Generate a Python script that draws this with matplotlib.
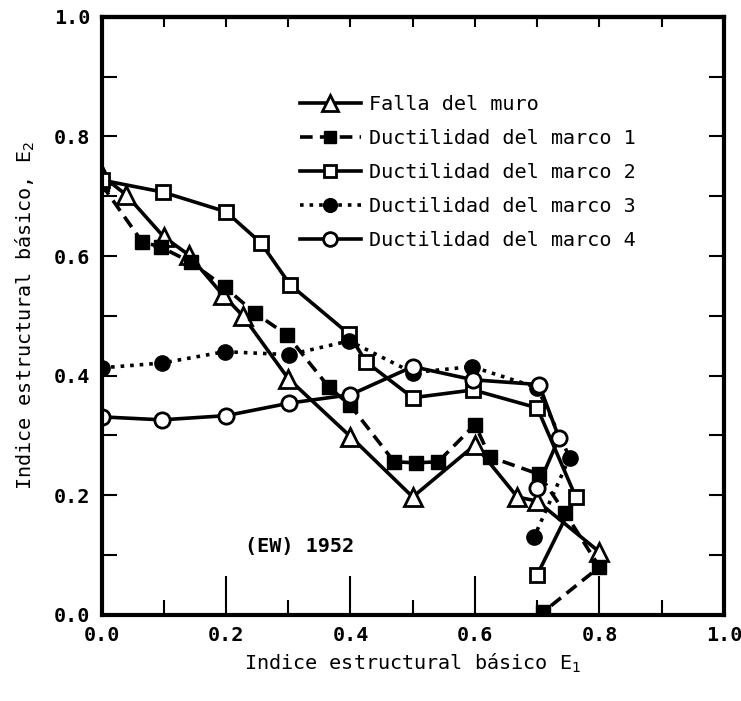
"""Indice estructural basico E1 vs E2 (EW) 1952"""
import matplotlib
matplotlib.use("Agg")
import matplotlib.pyplot as plt
from matplotlib.ticker import MultipleLocator

plt.rcParams['font.family'] = ['DejaVu Sans Mono']

# Falla del muro
muro_x = [0.0, 0.04, 0.10, 0.14, 0.195, 0.227, 0.30, 0.40, 0.50, 0.60, 0.668, 0.70, 0.80]
muro_y = [0.735, 0.702, 0.632, 0.602, 0.535, 0.50, 0.395, 0.298, 0.197, 0.284, 0.197, 0.19, 0.105]

# Ductilidad del marco 1
m1_x = [0.0, 0.065, 0.095, 0.143, 0.198, 0.246, 0.298, 0.365, 0.40, 0.47, 0.505, 0.541, 0.60,
        0.624, 0.703, 0.745, 0.80, 0.71]
m1_y = [0.72, 0.624, 0.615, 0.59, 0.548, 0.505, 0.468, 0.381, 0.35, 0.256, 0.254, 0.256, 0.318,
        0.264, 0.235, 0.17, 0.08, 0.005]

# Ductilidad del marco 2
m2_x = [0.0, 0.098, 0.20, 0.256, 0.303, 0.397, 0.425, 0.50, 0.597, 0.70, 0.762, 0.70]
m2_y = [0.727, 0.707, 0.674, 0.622, 0.552, 0.47, 0.423, 0.363, 0.376, 0.346, 0.197, 0.067]

# Ductilidad del marco 3
m3_x = [0.0, 0.097, 0.198, 0.302, 0.398, 0.50, 0.595, 0.70, 0.752, 0.695]
m3_y = [0.413, 0.421, 0.44, 0.435, 0.458, 0.405, 0.415, 0.38, 0.263, 0.13]

# Ductilidad del marco 4
m4_x = [0.0, 0.097, 0.20, 0.302, 0.40, 0.50, 0.597, 0.703, 0.735, 0.70]
m4_y = [0.331, 0.326, 0.333, 0.354, 0.368, 0.415, 0.393, 0.385, 0.296, 0.212]

labels = ["Falla del muro", "Ductilidad del marco 1", "Ductilidad del marco 2",
          "Ductilidad del marco 3", "Ductilidad del marco 4"]

fig = plt.figure(figsize=(7.41, 7.01), dpi=100)
ax = fig.add_axes([0.137, 0.123, 0.84, 0.853])

lw = 2.6
ax.plot(muro_x, muro_y, '-', color='k', lw=lw, marker='^', ms=13, mfc='white',
        mec='k', mew=2, label=labels[0])
ax.plot(m1_x, m1_y, '--', color='k', lw=lw, dashes=(3.5, 2), marker='s', ms=9.5, mfc='k',
        mec='k', label=labels[1])
ax.plot(m2_x, m2_y, '-', color='k', lw=lw, marker='s', ms=10, mfc='white',
        mec='k', mew=2, label=labels[2])
ax.plot(m3_x, m3_y, ':', color='k', lw=lw, marker='o', ms=11, mfc='k',
        mec='k', label=labels[3])
ax.plot(m4_x, m4_y, '-', color='k', lw=lw, marker='o', ms=11, mfc='white',
        mec='k', mew=2, label=labels[4])

ax.set_xlim(0, 1.0)
ax.set_ylim(0, 1.0)
ax.xaxis.set_major_locator(MultipleLocator(0.2))
ax.xaxis.set_minor_locator(MultipleLocator(0.1))
ax.yaxis.set_major_locator(MultipleLocator(0.2))
ax.yaxis.set_minor_locator(MultipleLocator(0.1))
ax.xaxis.set_major_formatter(lambda v, p: f"{v:.1f}")
ax.yaxis.set_major_formatter(lambda v, p: f"{v:.1f}")

ax.tick_params(axis='x', which='major', direction='in', length=28, width=1.5,
               labelsize=14.5, pad=8)
ax.tick_params(axis='x', which='minor', direction='in', length=11, width=1.5)
ax.tick_params(axis='y', which='both', direction='in', length=11, width=1.5,
               right=True, labelsize=14.5, pad=8)
for lab in ax.get_xticklabels() + ax.get_yticklabels():
    lab.set_fontweight('bold')

top = ax.secondary_xaxis('top')
top.xaxis.set_major_locator(MultipleLocator(0.1))
top.tick_params(direction='in', length=7, width=1.5, labeltop=False)

for s in ax.spines.values():
    s.set_linewidth(3)
top.spines['top'].set_linewidth(3)

ax.set_xlabel("Indice estructural básico E$_1$", fontsize=14.5, labelpad=5)
ax.set_ylabel("Indice estructural básico, E$_2$", fontsize=14.5, labelpad=12)

ax.text(0.23, 0.105, "(EW) 1952", fontsize=14.5, fontweight='bold',
        transform=ax.transData)

leg = ax.legend(loc='upper left', bbox_to_anchor=(0.29, 0.9), frameon=False,
                fontsize=14.5, handlelength=3.0, labelspacing=0.75, handletextpad=0.4,
                markerscale=0.9)

fig.savefig("out.png", dpi=100)
